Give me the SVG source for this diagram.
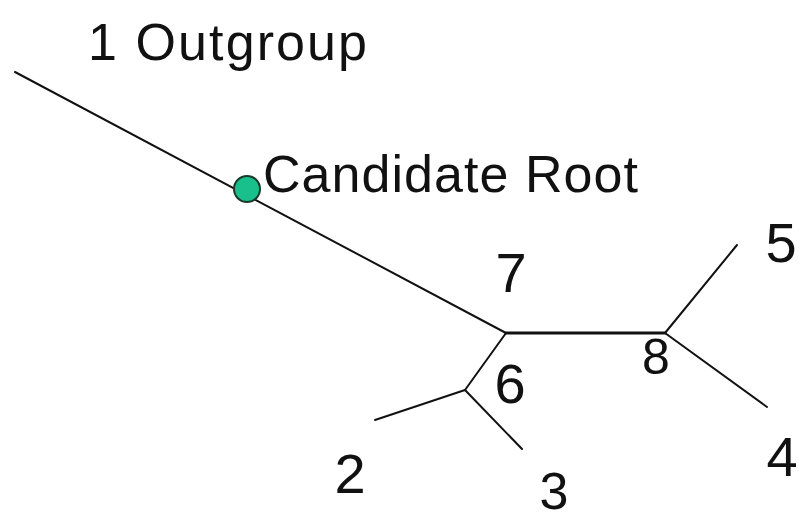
<svg xmlns="http://www.w3.org/2000/svg" width="799" height="520" viewBox="0 0 799 520">
<style>
.e{stroke:#111;stroke-width:2;fill:none;stroke-linecap:round}
.t{font-family:"Liberation Sans",Arial,sans-serif;font-size:52px;fill:#111;font-weight:normal}
.n{font-family:"Liberation Sans",Arial,sans-serif;font-size:56px;fill:#111;text-anchor:middle}
</style>
<rect width="799" height="520" fill="#fff"/>
<g id="connectors">
<line class="e" x1="15" y1="72" x2="506" y2="333"/>
<line class="e" x1="506" y1="333" x2="665" y2="333" style="stroke-width:3"/>
<line class="e" x1="665" y1="333" x2="737" y2="245"/>
<line class="e" x1="665" y1="333" x2="767" y2="407"/>
<line class="e" x1="506" y1="333" x2="465" y2="390"/>
<line class="e" x1="465" y1="390" x2="375" y2="420"/>
<line class="e" x1="465" y1="390" x2="522" y2="449"/>
</g>
<g id="outgroup"><text class="t" x="88" y="60" textLength="279">1 Outgroup</text></g>
<g id="root">
<circle cx="247" cy="189" r="13" fill="#19c08c" stroke="#1a3a2a" stroke-width="2"/>
<text class="t" x="263" y="192" textLength="375">Candidate Root</text>
</g>
<g id="n7"><text class="n" x="511" y="292">7</text></g>
<g id="n6"><text class="n" x="510" y="403">6</text></g>
<g id="n8"><text class="n" x="656" y="374" style="font-size:50px">8</text></g>
<g id="n5"><text class="n" x="781" y="262">5</text></g>
<g id="n4"><text class="n" x="782" y="476">4</text></g>
<g id="n2"><text class="n" x="350" y="493">2</text></g>
<g id="n3"><text class="n" x="554" y="509" style="font-size:52px">3</text></g>
</svg>
